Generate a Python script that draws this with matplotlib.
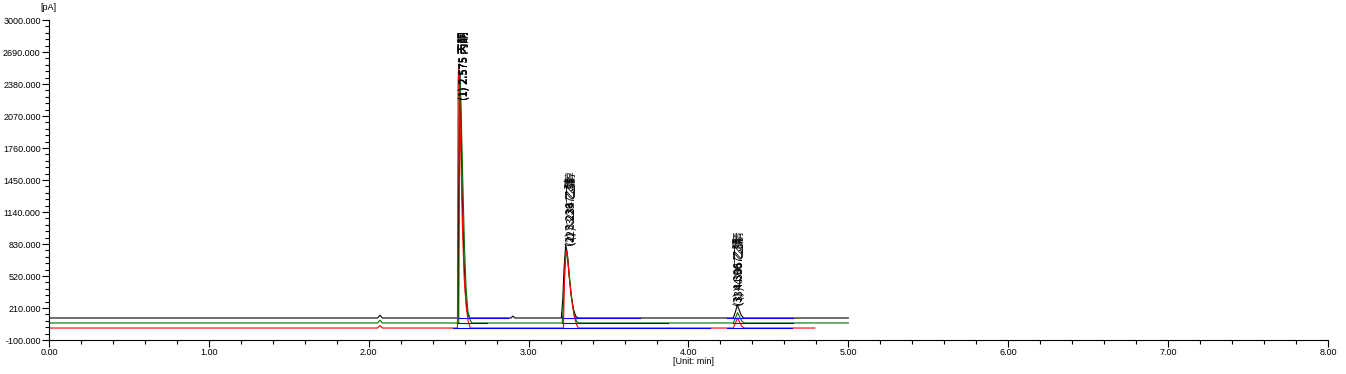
import matplotlib.pyplot as plt
import numpy as np

# chromatogram traces (time in min, signal in pA)
black_t = [0.00, 2.055, 2.070, 2.085, 2.560, 2.562, 2.566, 2.571, 2.576, 2.585, 2.595, 2.605, 2.615, 2.630,
           2.890, 2.902, 2.915, 3.205, 3.214, 3.222, 3.232, 3.240, 3.252, 3.265, 3.280, 3.295, 3.310,
           4.280, 4.295, 4.305, 4.315, 4.330, 4.345, 5.00]
black_y = [113, 113, 140, 113, 113, 1200, 2300, 2500, 2000, 1300, 700, 350, 180, 113,
           113, 132, 113, 113, 300, 600, 820, 760, 550, 350, 200, 130, 113,
           113, 180, 240, 200, 140, 113, 113]

green_t = [0.00, 2.055, 2.070, 2.085, 2.563, 2.566, 2.569, 2.573, 2.579, 2.589, 2.599, 2.609, 2.620, 2.635, 2.645,
           3.210, 3.218, 3.226, 3.236, 3.243, 3.255, 3.268, 3.285, 3.300, 3.315,
           4.280, 4.295, 4.307, 4.318, 4.335, 4.350, 5.00]
green_y = [65, 65, 92, 65, 65, 1000, 2150, 2400, 2050, 1400, 800, 400, 180, 90, 65,
           65, 250, 560, 770, 730, 520, 320, 150, 80, 65,
           65, 120, 165, 130, 80, 65, 65]

red_t = [0.00, 2.055, 2.070, 2.085, 2.555, 2.557, 2.559, 2.563, 2.568, 2.576, 2.586, 2.597, 2.610, 2.622, 2.635,
         3.218, 3.222, 3.228, 3.236, 3.244, 3.256, 3.270, 3.285, 3.300, 3.310,
         4.280, 4.295, 4.307, 4.318, 4.335, 4.350, 4.79]
red_y = [16, 16, 40, 16, 16, 1200, 2400, 2550, 2300, 1700, 1000, 500, 220, 80, 16,
         16, 350, 650, 770, 700, 480, 280, 130, 50, 16,
         16, 70, 115, 80, 30, 16, 16]

# integration baselines (start, end)
black_base = [(2.558, 2.871), (3.215, 3.697), (4.241, 4.654)]
green_base = [(2.552, 2.740), (3.209, 3.872), (4.278, 4.654)]
red_base = [(2.527, 4.134), (4.241, 4.647)]

# peak labels
peak_names = ["丙酮", "乙醇", "乙腈"]
black_rt = [2.575, 3.234, 4.305]
green_rt = [2.575, 3.237, 4.307]
red_rt = [2.575, 3.236, 4.306]
label_x = [2.596, 3.265, 4.316]
label_y = [2225, 820, 240]

plt.rcParams['font.family'] = ['Liberation Sans', 'DejaVu Sans']

fig = plt.figure(figsize=(13.46, 3.74), dpi=100)
ax = fig.add_axes([0.0364, 0.0909, 0.9502, 0.8556])

ax.plot(black_t, black_y, color="black", lw=0.8)
ax.plot(green_t, green_y, color="#007000", lw=0.8)
ax.plot(red_t, red_y, color="red", lw=0.8)

for segs, lev in [(black_base, black_y[0]), (green_base, green_y[0]), (red_base, red_y[0])]:
    for a, b in segs:
        ax.plot([a, b], [lev, lev], color="blue", lw=0.8)

cjk = ['Noto Sans CJK SC', 'DejaVu Sans']
for i in range(3):
    for rts, dx, dy in [(black_rt, 0.0, 0), (green_rt, 0.004, 45), (red_rt, -0.003, -10)]:
        txt = "(%d) %.3f %s" % (i + 1, rts[i], peak_names[i])
        ax.text(label_x[i] + dx, label_y[i] + dy * (i > 0), txt, rotation=90,
                ha="center", va="bottom", fontsize=8, family=cjk, color="black")

ax.set_xlim(0, 8)
ax.set_ylim(-100, 3000)
ax.set_xticks(np.arange(0, 9, 1))
ax.set_xticklabels(["%.2f" % v for v in range(9)])
ax.set_xticks(np.arange(0, 8.01, 0.2), minor=True)
yt = np.arange(-100, 3001, 310)
ax.set_yticks(yt)
ax.set_yticklabels(["%.3f" % v for v in yt])
ax.set_yticks(np.arange(-100, 3001, 62), minor=True)
ax.tick_params(which="major", length=5, width=0.8, labelsize=6.5, pad=1)
ax.tick_params(which="minor", length=3, width=0.8)

for s in ["top", "right"]:
    ax.spines[s].set_visible(False)
for s in ["left", "bottom"]:
    ax.spines[s].set_linewidth(0.8)

fig.text(48 / 1346, 1 - 8 / 374, "[pA]", fontsize=6.5, ha="center", va="center")
fig.text(694 / 1346, 1 - 362 / 374, "[Unit: min]", fontsize=6.5, ha="center", va="center")

fig.savefig("out.png", dpi=100)
